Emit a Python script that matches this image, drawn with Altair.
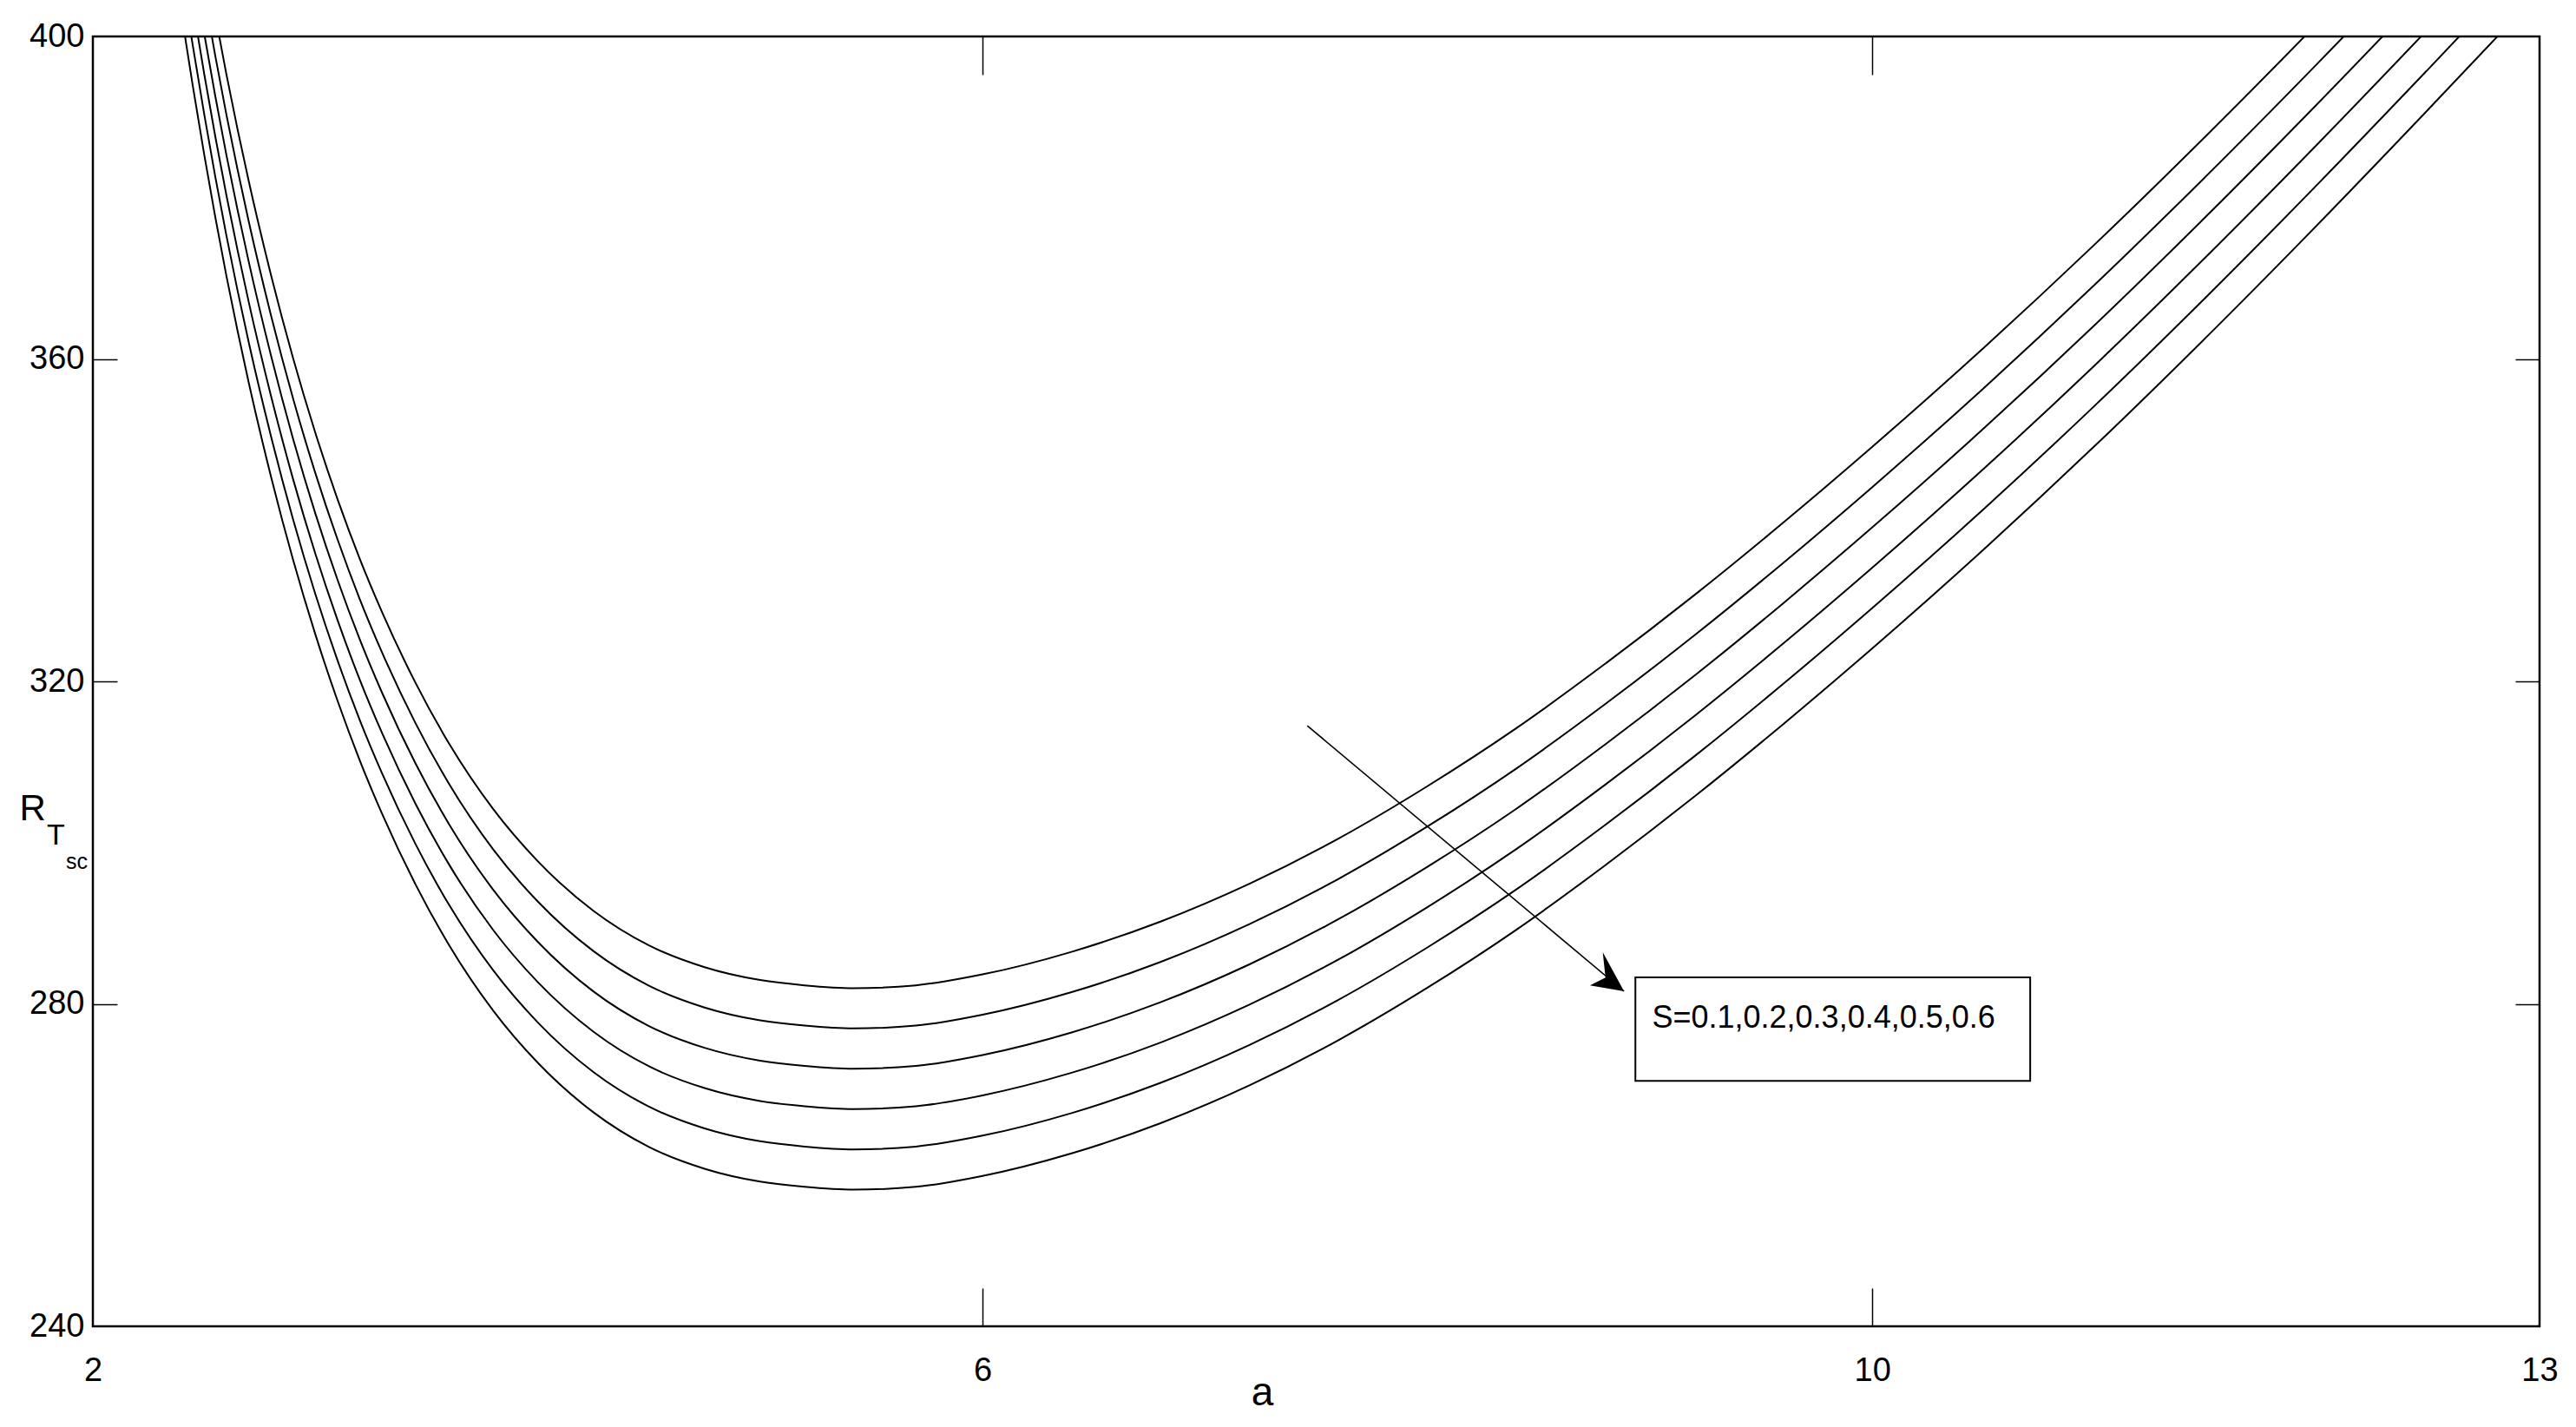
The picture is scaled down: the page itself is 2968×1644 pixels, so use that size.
import altair as alt
import pandas as pd

# ---- data ----
a_grid = [2.40, 2.42, 2.45, 2.50, 2.55, 2.60, 2.65, 2.70, 2.80, 2.90,
          3.00, 3.10, 3.20, 3.30, 3.45, 3.60, 3.80, 4.00, 4.25, 4.50,
          4.75, 5.00, 5.20, 5.42, 5.70, 6.00, 6.40, 6.80, 7.20, 7.60,
          8.00, 8.40, 8.80, 9.20, 9.60, 10.00, 10.50, 11.00, 11.50, 12.00,
          12.50, 12.85]

R_s01 = [427.6, 424.0, 418.75, 410.45, 402.65, 395.35, 388.55, 382.15, 370.5, 360.1,
         350.85, 342.6, 335.2, 328.6, 319.85, 312.35, 304.15, 297.7, 291.55, 287.25,
         284.55, 282.95, 282.3, 281.95, 282.3, 283.65, 286.45, 290.2, 294.9, 300.5,
         307.0, 314.2, 322.2, 330.7, 339.7, 349.1, 361.35, 374.2, 387.65, 401.6,
         415.95, 426.15]
R_s02 = [422.6, 419.0, 413.75, 405.45, 397.65, 390.35, 383.55, 377.15, 365.5, 355.1,
         345.85, 337.6, 330.2, 323.6, 314.85, 307.35, 299.15, 292.7, 286.55, 282.25,
         279.55, 277.95, 277.3, 276.95, 277.3, 278.65, 281.45, 285.2, 289.9, 295.5,
         302.0, 309.2, 317.2, 325.7, 334.7, 344.1, 356.35, 369.2, 382.65, 396.6,
         410.95, 421.15]
R_s03 = [417.6, 414.0, 408.75, 400.45, 392.65, 385.35, 378.55, 372.15, 360.5, 350.1,
         340.85, 332.6, 325.2, 318.6, 309.85, 302.35, 294.15, 287.7, 281.55, 277.25,
         274.55, 272.95, 272.3, 271.95, 272.3, 273.65, 276.45, 280.2, 284.9, 290.5,
         297.0, 304.2, 312.2, 320.7, 329.7, 339.1, 351.35, 364.2, 377.65, 391.6,
         405.95, 416.15]
R_s04 = [412.6, 409.0, 403.75, 395.45, 387.65, 380.35, 373.55, 367.15, 355.5, 345.1,
         335.85, 327.6, 320.2, 313.6, 304.85, 297.35, 289.15, 282.7, 276.55, 272.25,
         269.55, 267.95, 267.3, 266.95, 267.3, 268.65, 271.45, 275.2, 279.9, 285.5,
         292.0, 299.2, 307.2, 315.7, 324.7, 334.1, 346.35, 359.2, 372.65, 386.6,
         400.95, 411.15]
R_s05 = [407.6, 404.0, 398.75, 390.45, 382.65, 375.35, 368.55, 362.15, 350.5, 340.1,
         330.85, 322.6, 315.2, 308.6, 299.85, 292.35, 284.15, 277.7, 271.55, 267.25,
         264.55, 262.95, 262.3, 261.95, 262.3, 263.65, 266.45, 270.2, 274.9, 280.5,
         287.0, 294.2, 302.2, 310.7, 319.7, 329.1, 341.35, 354.2, 367.65, 381.6,
         395.95, 406.15]
R_s06 = [402.6, 399.0, 393.75, 385.45, 377.65, 370.35, 363.55, 357.15, 345.5, 335.1,
         325.85, 317.6, 310.2, 303.6, 294.85, 287.35, 279.15, 272.7, 266.55, 262.25,
         259.55, 257.95, 257.3, 256.95, 257.3, 258.65, 261.45, 265.2, 269.9, 275.5,
         282.0, 289.2, 297.2, 305.7, 314.7, 324.1, 336.35, 349.2, 362.65, 376.6,
         390.95, 401.15]

S_values = ["0.1", "0.2", "0.3", "0.4", "0.5", "0.6"]
series = [R_s01, R_s02, R_s03, R_s04, R_s05, R_s06]

x_tick_labels = [2, 6, 10, 13]
x_inner_ticks = [6, 10]
y_tick_labels = [240, 280, 320, 360, 400]
y_inner_ticks = [280, 320, 360]

# annotation: arrow and label box (data coordinates)
arrow_start = [7.46, 314.5]
arrow_tip = [8.884, 281.56]
box_a = [8.935, 10.710]
box_R = [270.45, 283.28]
label_pos = [9.010, 277.0]
label_text = "S=0.1,0.2,0.3,0.4,0.5,0.6"

rows = []
for s, vals in zip(S_values, series):
    for a, r in zip(a_grid, vals):
        rows.append({"a": a, "R": r, "S": s})
df = pd.DataFrame(rows)

FONT = "Liberation Sans, Arial, sans-serif"
W, H = 2819, 1486
xs = alt.Scale(domain=[2, 13], nice=False, zero=False)
ys = alt.Scale(domain=[240, 400], nice=False, zero=False)

curves = alt.Chart(df).mark_line(
    color="black", strokeWidth=2, interpolate="monotone", clip=True
).encode(
    x=alt.X("a:Q", scale=xs, axis=alt.Axis(
        orient="bottom", values=x_tick_labels, ticks=False, tickSize=0, domain=False,
        grid=False, labelFlush=False, labelOverlap=False, labelPadding=32,
        labelFontSize=38, labelFont=FONT, labelColor="black",
        title="a", titleFont=FONT, titleFontSize=46, titleFontWeight="normal",
        titleColor="black", titleX=1347, titleY=90, titleAlign="center",
        titleBaseline="alphabetic")),
    y=alt.Y("R:Q", scale=ys, axis=alt.Axis(
        orient="left", values=y_tick_labels, ticks=False, tickSize=0, domain=False,
        grid=False, labelFlush=False, labelOverlap=False, labelPadding=10,
        labelFontSize=38, labelFont=FONT, labelColor="black",
        title="R", titleFont=FONT, titleFontSize=42, titleFontWeight="normal",
        titleColor="black", titleAngle=0, titleX=-85, titleY=902,
        titleAlign="left", titleBaseline="alphabetic")),
    detail="S:N",
)

ticks_bl = alt.Chart(df).mark_line(opacity=0).encode(
    x=alt.X("a:Q", scale=xs, axis=alt.Axis(
        orient="bottom", offset=-44, values=x_inner_ticks, labels=False,
        domain=False, grid=False, ticks=True, tickSize=44, tickWidth=1.5,
        tickColor="black", title="")),
    y=alt.Y("R:Q", scale=ys, axis=alt.Axis(
        orient="left", offset=-28, values=y_inner_ticks, labels=False,
        domain=False, grid=False, ticks=True, tickSize=28, tickWidth=1.5,
        tickColor="black", title="")),
    detail="S:N",
)

ticks_tr = alt.Chart(df).mark_line(opacity=0).encode(
    x=alt.X("a:Q", scale=xs, axis=alt.Axis(
        orient="top", offset=-44, values=x_inner_ticks, labels=False,
        domain=False, grid=False, ticks=True, tickSize=44, tickWidth=1.5,
        tickColor="black", title="")),
    y=alt.Y("R:Q", scale=ys, axis=alt.Axis(
        orient="right", offset=-28, values=y_inner_ticks, labels=False,
        domain=False, grid=False, ticks=True, tickSize=28, tickWidth=1.5,
        tickColor="black", title="")),
    detail="S:N",
)

arrow_df = pd.DataFrame({"a1": [arrow_start[0]], "R1": [arrow_start[1]],
                         "a2": [arrow_tip[0]], "R2": [arrow_tip[1]]})
shaft = alt.Chart(arrow_df).mark_rule(color="black", strokeWidth=1.6).encode(
    x=alt.X("a1:Q", scale=xs, axis=None), y=alt.Y("R1:Q", scale=ys, axis=None),
    x2="a2:Q", y2="R2:Q",
)
head = alt.Chart(arrow_df).mark_point(
    shape="M0,0L1.005,1.72L0.085,1.325L-0.935,2.385Z",
    filled=True, size=1600, angle=130, color="black", opacity=1, strokeWidth=0,
).encode(
    x=alt.X("a2:Q", scale=xs, axis=None), y=alt.Y("R2:Q", scale=ys, axis=None),
)

box_df = pd.DataFrame({"a1": [box_a[0]], "a2": [box_a[1]],
                       "R1": [box_R[0]], "R2": [box_R[1]]})
box = alt.Chart(box_df).mark_rect(fill="white", stroke="black", strokeWidth=2).encode(
    x=alt.X("a1:Q", scale=xs, axis=None), x2="a2:Q",
    y=alt.Y("R1:Q", scale=ys, axis=None), y2="R2:Q",
)

label_df = pd.DataFrame({"a": [label_pos[0]], "R": [label_pos[1]], "t": [label_text]})
label = alt.Chart(label_df).mark_text(
    font=FONT, fontSize=36, align="left", baseline="alphabetic", color="black"
).encode(
    x=alt.X("a:Q", scale=xs, axis=None), y=alt.Y("R:Q", scale=ys, axis=None),
    text="t:N",
)

sub1 = alt.Chart(pd.DataFrame({"t": ["T"]})).mark_text(
    font=FONT, fontSize=34, align="left", baseline="alphabetic", color="black"
).encode(x=alt.value(-53), y=alt.value(931), text="t:N")
sub2 = alt.Chart(pd.DataFrame({"t": ["sc"]})).mark_text(
    font=FONT, fontSize=25, align="left", baseline="alphabetic", color="black"
).encode(x=alt.value(-31), y=alt.value(959), text="t:N")

chart = alt.layer(
    curves, ticks_bl, ticks_tr, shaft, head, box, label, sub1, sub2
).resolve_scale(x="shared", y="shared").resolve_axis(
    x="independent", y="independent"
).properties(
    width=W, height=H,
    autosize=alt.AutoSizeParams(type="none"),
    padding={"left": 99, "top": 34, "right": 30, "bottom": 100},
    background="white",
).configure_view(stroke="black", strokeWidth=2.5)

chart.save("out.html", embed_options={"renderer": "svg", "actions": False})
